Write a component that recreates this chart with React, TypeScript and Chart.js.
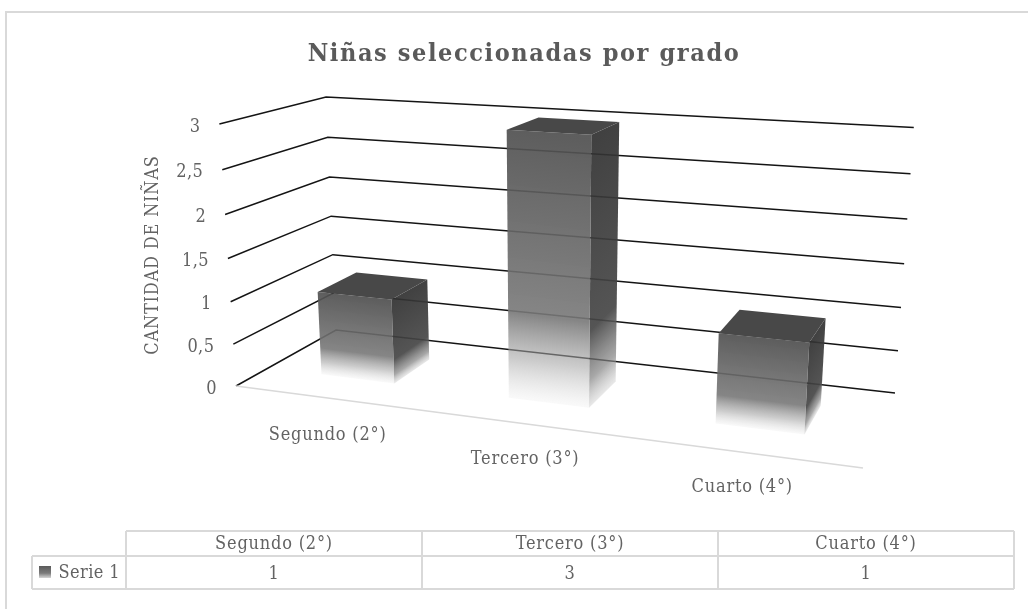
import React, { useEffect, useRef } from "react";
import { Chart, registerables } from "chart.js";

Chart.register(...registerables);

const chartTitle = "Niñas seleccionadas por grado";
const yAxisTitle = "CANTIDAD DE NIÑAS";
const categories = ["Segundo (2°)", "Tercero (3°)", "Cuarto (4°)"];
const seriesName = "Serie 1";
const seriesValues = [1, 3, 1];

const FONT = '"DejaVu Serif Condensed", "DejaVu Serif", serif';
const TEXT = "#636363";

type Pt = [number, number];

// Camera: screen corners of the floor (front-left, front-right, back-right, back-left),
// vanishing point of the vertical direction, and its strength per full axis height.
const FLOOR: Pt[] = [[236, 386], [863, 468], [895, 393], [336, 330]];
const VANISH: Pt = [548, 5300];
const HEIGHT_STRENGTH = -0.0506;
const DEPTH_NEAR = 0.3;
const DEPTH_FAR = 0.7;

function homography(q: Pt[]) {
  const [p0, p1, p2, p3] = q;
  const sx = p0[0] - p1[0] + p2[0] - p3[0];
  const sy = p0[1] - p1[1] + p2[1] - p3[1];
  const d1x = p1[0] - p2[0], d1y = p1[1] - p2[1];
  const d2x = p3[0] - p2[0], d2y = p3[1] - p2[1];
  const den = d1x * d2y - d2x * d1y;
  const g = (sx * d2y - d2x * sy) / den;
  const h = (d1x * sy - sx * d1y) / den;
  const a = p1[0] - p0[0] + g * p1[0];
  const b = p3[0] - p0[0] + h * p3[0];
  const d = p1[1] - p0[1] + g * p1[1];
  const e = p3[1] - p0[1] + h * p3[1];
  return (u: number, w: number) => {
    const z = g * u + h * w + 1;
    return { x: (a * u + b * w + p0[0]) / z, y: (d * u + e * w + p0[1]) / z, z };
  };
}
const floorMap = homography(FLOOR);

function project(u: number, w: number, v: number, max: number): Pt {
  const f = floorMap(u, w);
  const q = HEIGHT_STRENGTH * (v / max);
  const k = q / (f.z + q);
  return [f.x + k * (VANISH[0] - f.x), f.y + k * (VANISH[1] - f.y)];
}

function poly(ctx: CanvasRenderingContext2D, pts: Pt[], fill: any) {
  ctx.beginPath();
  pts.forEach((p, i) => (i ? ctx.lineTo(p[0], p[1]) : ctx.moveTo(p[0], p[1])));
  ctx.closePath();
  ctx.fillStyle = fill;
  ctx.fill();
}

// gradient running from p0 perpendicular onto the edge e1-e2
function faceGradient(ctx: CanvasRenderingContext2D, p0: Pt, e1: Pt, e2: Pt, stops: [number, string][]) {
  const ex = e2[0] - e1[0], ey = e2[1] - e1[1];
  const k = ((p0[0] - e1[0]) * ex + (p0[1] - e1[1]) * ey) / (ex * ex + ey * ey);
  const fx = e1[0] + k * ex, fy = e1[1] + k * ey;
  const g = ctx.createLinearGradient(p0[0], p0[1], fx, fy);
  stops.forEach(([o, c]) => g.addColorStop(o, c));
  return g;
}

const FRONT_STOPS: [number, string][] = [
  [0, "rgba(80,80,80,0.92)"],
  [0.68, "rgba(120,120,120,0.9)"],
  [0.85, "rgba(160,160,160,0.55)"],
  [1, "rgba(200,200,200,0.1)"],
];
const SIDE_STOPS: [number, string][] = [
  [0, "rgba(48,48,48,0.92)"],
  [0.72, "rgba(70,70,70,0.92)"],
  [0.9, "rgba(130,130,130,0.7)"],
  [1, "rgba(190,190,190,0.35)"],
];

const box3d = {
  id: "box3d",
  afterDatasetsDraw(chart: any) {
    const ctx: any = chart.ctx;
    const area = chart.chartArea;
    const y = chart.scales.y;
    const max = y.max;
    ctx.save();

    // gridlines on the left and back walls, tick labels
    ctx.strokeStyle = "#141414";
    ctx.lineWidth = 1.5;
    ctx.textBaseline = "middle";
    ctx.textAlign = "right";
    ctx.font = `18px ${FONT}`;
    ctx.letterSpacing = "0.4px";
    y.ticks.forEach((tick: any) => {
      const a = project(0, 0, tick.value, max);
      const b = project(0, 1, tick.value, max);
      const c = project(1, 1, tick.value, max);
      ctx.beginPath();
      ctx.moveTo(a[0], a[1]);
      ctx.lineTo(b[0], b[1]);
      ctx.lineTo(c[0], c[1]);
      ctx.stroke();
      ctx.fillStyle = TEXT;
      ctx.fillText(tick.label, a[0] - 19, a[1] + 3);
    });

    // floor front edge
    const fl = project(0, 0, 0, max), fr = project(1, 0, 0, max);
    ctx.strokeStyle = "#d9d9d9";
    ctx.lineWidth = 1.5;
    ctx.beginPath();
    ctx.moveTo(fl[0], fl[1]);
    ctx.lineTo(fr[0], fr[1]);
    ctx.stroke();

    // bars
    const meta = chart.getDatasetMeta(0);
    meta.data.forEach((el: any) => {
      const u0 = (el.x - el.width / 2 - area.left) / area.width;
      const u1 = (el.x + el.width / 2 - area.left) / area.width;
      const v = y.getValueForPixel(el.y);
      const P = (u: number, w: number, h: number) => project(u, w, h, max);
      const fb0 = P(u0, DEPTH_NEAR, 0), fb1 = P(u1, DEPTH_NEAR, 0);
      const ft0 = P(u0, DEPTH_NEAR, v), ft1 = P(u1, DEPTH_NEAR, v);
      const bb1 = P(u1, DEPTH_FAR, 0);
      const bt0 = P(u0, DEPTH_FAR, v), bt1 = P(u1, DEPTH_FAR, v);
      poly(ctx, [ft1, bt1, bb1, fb1], faceGradient(ctx, ft1, fb1, bb1, SIDE_STOPS));
      poly(ctx, [ft0, ft1, fb1, fb0], faceGradient(ctx, ft0, fb0, fb1, FRONT_STOPS));
      poly(ctx, [ft0, bt0, bt1, ft1], "#484848");
    });

    // category labels
    ctx.textAlign = "center";
    ctx.fillStyle = TEXT;
    ctx.letterSpacing = "0.8px";
    const labelShift: Pt[] = [[0, 37], [0, 36], [-2, 35]];
    chart.scales.x.ticks.forEach((tick: any, i: number) => {
      const cu = (chart.scales.x.getPixelForTick(i) - area.left) / area.width;
      const p = project(cu, 0, 0, max);
      ctx.fillText(tick.label, p[0] + labelShift[i][0], p[1] + labelShift[i][1]);
    });

    // y axis title
    ctx.save();
    ctx.translate(153, 255);
    ctx.rotate(-Math.PI / 2);
    ctx.letterSpacing = "0.8px";
    ctx.fillText(yAxisTitle, 0, 0);
    ctx.restore();

    // data table
    const colX = [126, 422, 718, 1014];
    const tableLeft = 32;
    const rowY = [531, 556, 589];
    ctx.strokeStyle = "#d9d9d9";
    ctx.lineWidth = 2;
    ctx.beginPath();
    ctx.moveTo(colX[0], rowY[0]); ctx.lineTo(colX[3], rowY[0]);
    ctx.moveTo(tableLeft, rowY[1]); ctx.lineTo(colX[3], rowY[1]);
    ctx.moveTo(tableLeft, rowY[2]); ctx.lineTo(colX[3], rowY[2]);
    ctx.moveTo(tableLeft, rowY[1]); ctx.lineTo(tableLeft, rowY[2]);
    colX.forEach((x) => { ctx.moveTo(x, rowY[0]); ctx.lineTo(x, rowY[2]); });
    ctx.stroke();
    ctx.fillStyle = TEXT;
    categories.forEach((c, i) => {
      const cx = (colX[i] + colX[i + 1]) / 2;
      ctx.fillText(c, cx, 544);
      ctx.fillText(String(chart.data.datasets[0].data[i]), cx, 574);
    });
    ctx.textAlign = "right";
    ctx.letterSpacing = "0.4px";
    ctx.fillText(seriesName, 120, 573);
    const sw = ctx.createLinearGradient(0, 566, 0, 578);
    sw.addColorStop(0, "#5a5a5a");
    sw.addColorStop(0.6, "#7c7c7c");
    sw.addColorStop(1, "#d5d5d5");
    ctx.fillStyle = sw;
    ctx.fillRect(39, 566, 12, 12);

    // outer frame (cropped on right and bottom)
    ctx.strokeStyle = "#d9d9d9";
    ctx.lineWidth = 2;
    ctx.beginPath();
    ctx.moveTo(6, 609); ctx.lineTo(6, 12); ctx.lineTo(1028, 12);
    ctx.stroke();
    ctx.restore();
  },
};

const titleSpacing = {
  id: "titleSpacing",
  beforeDraw(chart: any) {
    chart.ctx.letterSpacing = "1.6px";
  },
  afterDatasetsDraw(chart: any) {
    chart.ctx.letterSpacing = "0px";
  },
};

export default function App() {
  const ref = useRef<HTMLCanvasElement>(null);
  useEffect(() => {
    document.body.style.margin = "0";
    const chart = new Chart(ref.current!, {
      type: "bar",
      data: {
        labels: categories,
        datasets: [{
          label: seriesName,
          data: seriesValues,
          backgroundColor: "rgba(0,0,0,0)",
          barPercentage: 0.4,
          categoryPercentage: 1,
        }],
      },
      options: {
        responsive: false,
        animation: false,
        layout: { padding: { left: 20 } },
        plugins: {
          legend: { display: false },
          tooltip: { enabled: false },
          title: {
            display: true,
            text: chartTitle,
            color: "#5a5a5a",
            font: { family: FONT, size: 25, weight: "bold" },
            padding: { top: 39, bottom: 10 },
          },
        },
        scales: {
          x: { display: false },
          y: {
            display: false,
            min: 0,
            max: 3,
            ticks: { stepSize: 0.5, callback: (v: any) => String(v).replace(".", ",") },
          },
        },
      },
      plugins: [titleSpacing, box3d],
    } as any);
    return () => chart.destroy();
  }, []);
  return (
    <div style={{ position: "absolute", left: 0, top: 0, width: 1028, height: 609 }}>
      <canvas ref={ref} width={1028} height={609} style={{ display: "block", filter: "blur(0.4px)" }} />
    </div>
  );
}
